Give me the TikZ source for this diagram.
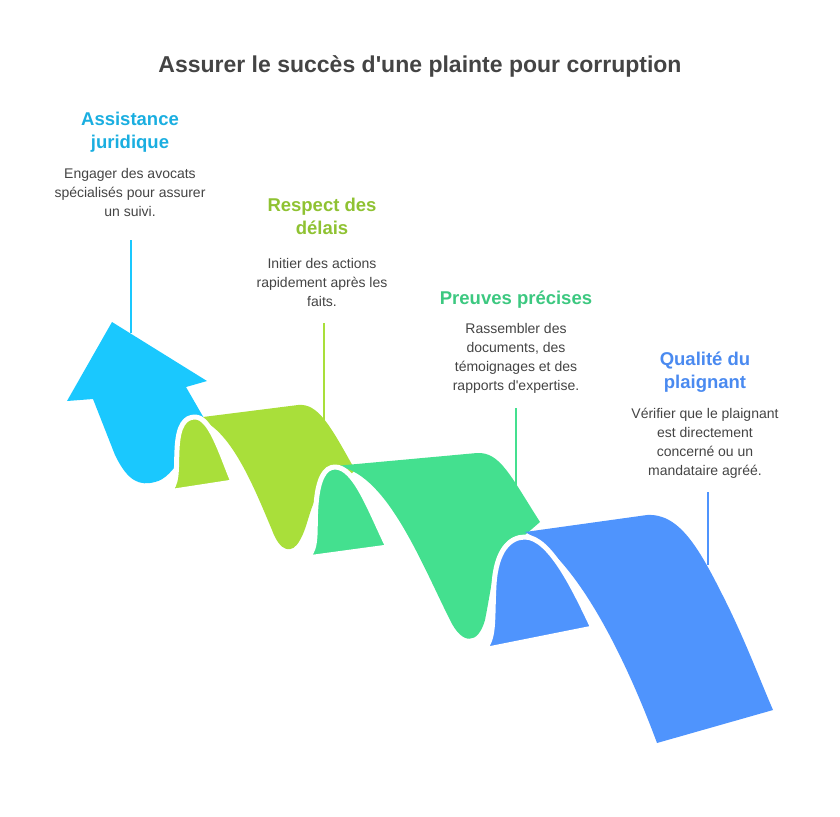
\documentclass[tikz,border=0pt]{standalone}
\usepackage{fontspec}
\setmainfont{Liberation Sans}
\definecolor{cA}{HTML}{1AC8FE}\definecolor{cAt}{HTML}{1AAEE0}
\definecolor{cB}{HTML}{A9DF3A}\definecolor{cBt}{HTML}{8FC232}
\definecolor{cC}{HTML}{44E08F}\definecolor{cCt}{HTML}{3CC880}
\definecolor{cD}{HTML}{4F94FD}\definecolor{cDt}{HTML}{4A8AF0}
\definecolor{tx}{HTML}{444444}
\newcommand{\apos}{\textquotesingle}
\begin{document}
\begin{tikzpicture}[x=1pt,y=-1pt,
 head/.style={font=\fontsize{18.5}{23}\selectfont\bfseries,align=center},
 body/.style={font=\fontsize{14}{19}\selectfont,text=tx,align=center},
 flap/.style={draw=white,line width=5pt,line join=round},
 lead/.style={line width=1.3pt}]
\useasboundingbox (0,0) rectangle (840,816);
\node[font=\fontsize{23}{27}\selectfont\bfseries,text=tx] (title) at (420,66) {Assurer le succès d\apos une plainte pour corruption};
% leader lines
\coordinate (l1a) at (131,240);\coordinate (l1b) at (131,333);
\coordinate (l2a) at (324,323);\coordinate (l2b) at (324,425);
\coordinate (l3a) at (516,408);\coordinate (l3b) at (516,495);
\coordinate (l4a) at (708,492);\coordinate (l4b) at (708,565);
\draw[lead,cA] (l1a)--(l1b);
\draw[lead,cB] (l2a)--(l2b);
\draw[lead,cC] (l3a)--(l3b);
\draw[lead,cD] (l4a)--(l4b);
% blue arrow
\fill[cA] (112,322) -- (207,381) -- (186,387) -- (205,420) .. controls (190,440) and (175,478) .. (155,482) .. controls (140,486) and (128,482) .. (115,455) -- (93,399) -- (67,401) -- cycle;
% green 1
\fill[cB] (195,418) -- (298,405) .. controls (318,403) and (330,425) .. (355,470) -- (345,480) .. controls (310,480) and (312,520) .. (300,540) .. controls (292,555) and (280,552) .. (272,530) .. controls (255,490) and (230,425) .. (195,418) -- cycle;
\filldraw[flap,fill=cB] (168,492) .. controls (178,485) and (176,470) .. (177,450) .. controls (178,425) and (185,417) .. (195,417) .. controls (210,417) and (220,450) .. (233,482) -- cycle;
% green 2
\fill[cC] (335,466) -- (477,453) .. controls (500,452) and (510,475) .. (540,522) -- (525,535) .. controls (495,535) and (495,570) .. (485,620) .. controls (478,645) and (462,645) .. (450,620) .. controls (420,560) and (385,470) .. (335,466) -- cycle;
\filldraw[flap,fill=cC] (307,558) .. controls (318,548) and (314,530) .. (316,505) .. controls (318,478) and (325,467) .. (335,467) .. controls (355,467) and (370,510) .. (388,547) -- cycle;
% blue main
\fill[cD] (525,532) -- (647,515) .. controls (680,513) and (700,550) .. (725,600) .. controls (745,640) and (760,680) .. (773,710) -- (657,743) .. controls (630,670) and (580,560) .. (525,532) -- cycle;
\filldraw[flap,fill=cD] (483,650) .. controls (495,640) and (492,620) .. (494,585) .. controls (496,550) and (510,537) .. (525,537) .. controls (550,537) and (575,590) .. (593,628) -- cycle;
% texts
\node[head,text=cAt] (h1) at (130,132) {Assistance\\juridique};
\node[body] (b1) at (130,192) {Engager des avocats\\spécialisés pour assurer\\un suivi.};
\node[head,text=cBt] (h2) at (322,216) {Respect des\\délais};
\node[body] (b2) at (322,282) {Initier des actions\\rapidement après les\\faits.};
\node[head,text=cCt] (h3) at (516,300) {Preuves précises};
\node[body] (b3) at (516,358) {Rassembler des\\documents, des\\témoignages et des\\rapports d\apos expertise.};
\node[head,text=cDt] (h4) at (705,372) {Qualité du\\plaignant};
\node[body] (b4) at (705,443) {Vérifier que le plaignant\\est directement\\concerné ou un\\mandataire agréé.};
\end{tikzpicture}
\end{document}
